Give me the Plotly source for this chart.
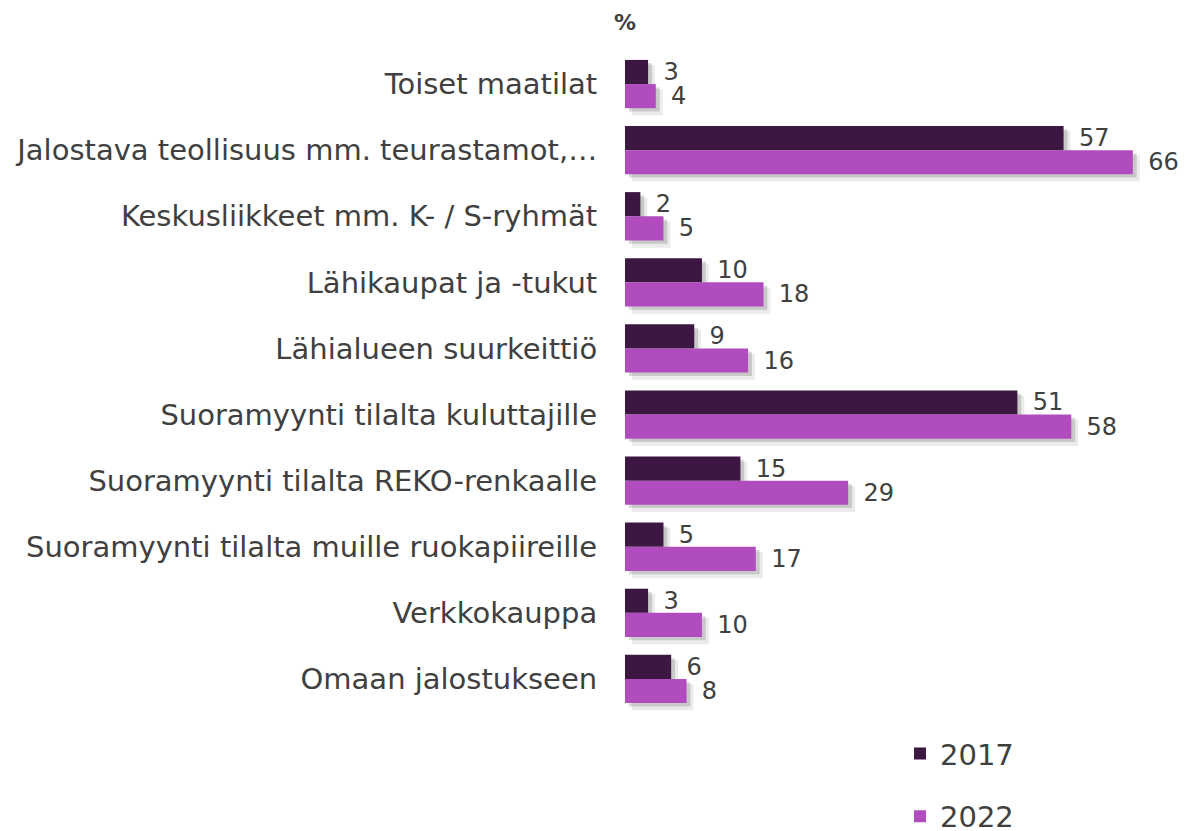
import plotly.graph_objects as go

categories = [
    "Toiset maatilat",
    "Jalostava teollisuus mm. teurastamot,…",
    "Keskusliikkeet mm. K- / S-ryhmät",
    "Lähikaupat ja -tukut",
    "Lähialueen suurkeittiö",
    "Suoramyynti tilalta kuluttajille",
    "Suoramyynti tilalta REKO-renkaalle",
    "Suoramyynti tilalta muille ruokapiireille",
    "Verkkokauppa",
    "Omaan jalostukseen",
]
values_2017 = [3, 57, 2, 10, 9, 51, 15, 5, 3, 6]
values_2022 = [4, 66, 5, 18, 16, 58, 29, 17, 10, 8]
series_names = ["2017", "2022"]
colors = ["#3B1741", "#B04CBE"]

BAR_W = 0.365
TEXT_COLOR = "#404040"
FONT = "DejaVu Sans"

fig = go.Figure()

# soft drop shadows (drawn beneath the bars)
for vals, off in [(values_2017, -BAR_W), (values_2022, 0.0)]:
    for alpha, dx, dy, grow in [(0.08, 0.9, 0.08, 0.03), (0.15, 0.5, 0.05, 0.0)]:
        fig.add_trace(go.Bar(
            y=categories, x=vals, base=dx, orientation="h",
            width=BAR_W + grow, offset=off + dy,
            marker=dict(color=f"rgba(0,0,0,{alpha})", line=dict(width=0)),
            showlegend=False, hoverinfo="skip",
        ))

for name, vals, col, off in [
    (series_names[0], values_2017, colors[0], -BAR_W),
    (series_names[1], values_2022, colors[1], 0.0),
]:
    fig.add_trace(go.Bar(
        y=categories, x=vals, orientation="h", name=name,
        width=BAR_W, offset=off,
        marker=dict(color=col, line=dict(width=0)),
        legendgroup=name,
    ))
    # value labels, placed a little past the bar end (beyond the shadow)
    fig.add_trace(go.Bar(
        y=categories, x=vals, base=1.6, orientation="h",
        width=BAR_W, offset=off,
        marker=dict(color="rgba(0,0,0,0)", line=dict(width=0)),
        text=[str(v) for v in vals], textposition="outside",
        textfont=dict(size=24, color=TEXT_COLOR, family=FONT),
        constraintext="none", cliponaxis=False,
        showlegend=False, hoverinfo="skip",
    ))

fig.update_layout(
    width=1181, height=823,
    barmode="overlay",
    plot_bgcolor="white", paper_bgcolor="white",
    margin=dict(l=617, r=10, t=43, b=119, autoexpand=False),
    font=dict(family=FONT, color=TEXT_COLOR),
    showlegend=True,
    legend=dict(
        orientation="v", xref="container", yref="container",
        x=0.7553, y=0.125, xanchor="left", yanchor="top",
        font=dict(size=29, color=TEXT_COLOR, family=FONT),
        tracegroupgap=22, itemwidth=30,
    ),
)
fig.update_xaxes(range=[0, 72], visible=False, showgrid=False, zeroline=False)
fig.update_yaxes(
    type="category", categoryorder="array", categoryarray=categories,
    autorange="reversed", showgrid=False, zeroline=False, showline=False,
    automargin=False,
    ticks="outside", ticklen=21, tickcolor="rgba(0,0,0,0)",
    tickfont=dict(size=29, color=TEXT_COLOR, family=FONT),
)
fig.add_annotation(
    text="<b>%</b>", xref="x", yref="paper", x=0, y=1.064,
    xanchor="center", yanchor="top", showarrow=False, borderpad=0,
    font=dict(size=22, color=TEXT_COLOR, family=FONT),
)

fig.write_html("out.html")
